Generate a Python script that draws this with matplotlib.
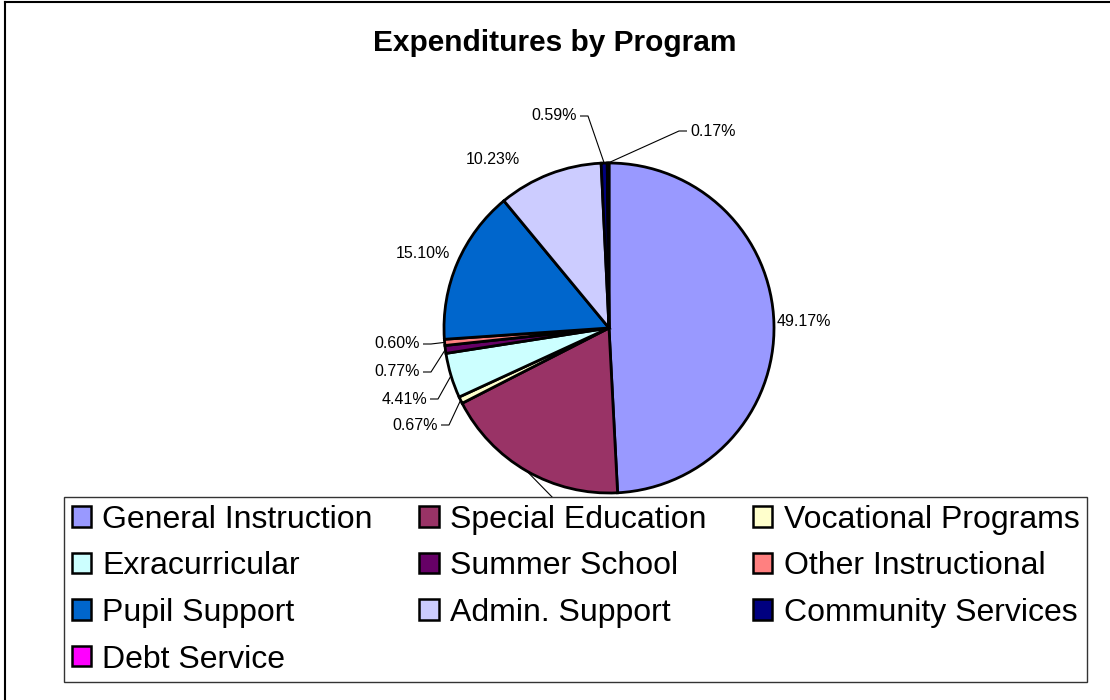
import numpy as np
import matplotlib
matplotlib.use("Agg")
import matplotlib.pyplot as plt
from matplotlib.patches import Patch
from matplotlib.lines import Line2D

plt.rcParams['font.family'] = ['Liberation Sans', 'DejaVu Sans']

# data
programs = ["General Instruction", "Special Education", "Vocational Programs",
            "Exracurricular", "Summer School", "Other Instructional",
            "Pupil Support", "Admin. Support", "Community Services", "Debt Service"]
shares = [49.17, 18.29, 0.67, 4.41, 0.77, 0.60, 15.10, 10.23, 0.59, 0.17]
colors = ["#9999FF", "#993366", "#FFFFCC", "#CCFFFF", "#660066",
          "#FF8080", "#0066CC", "#CCCCFF", "#000080", "#FF00FF"]

W, H = 1110, 700
# label placement (pixels from top-left): x, y, ha, leader line?, text visible?
# (the Special Education label sits behind the legend in the original)
label_layout = [
    (777, 322, "left", False, True),
    (566, 500, "left", True, False),
    (438, 425, "right", True, True),
    (427, 399, "right", True, True),
    (420, 372, "right", True, True),
    (420, 344, "right", True, True),
    (450, 254, "right", False, True),
    (520, 160, "right", False, True),
    (577, 116, "right", True, True),
    (690, 131, "left", True, True),
]

fig = plt.figure(figsize=(W / 100, H / 100), dpi=100)
ax = fig.add_axes([0, 0, 1, 1])

cx, cy, r = 609, H - 328, 165
wedges, _ = ax.pie(shares, colors=colors, startangle=90, counterclock=False,
                   center=(cx, cy), radius=r, frame=True,
                   wedgeprops=dict(edgecolor="black", linewidth=2))
ax.set_xlim(0, W)
ax.set_ylim(0, H)
ax.set_aspect("equal")
ax.set_axis_off()

for w, val, (tx, ty, ha, leader, shown) in zip(wedges, shares, label_layout):
    ty = H - ty
    if shown:
        ax.text(tx, ty, f"{val:.2f}%", ha=ha, va="center", fontsize=11.5, zorder=3)
    if leader:
        mid = np.deg2rad((w.theta1 + w.theta2) / 2)
        axp, ayp = cx + r * np.cos(mid), cy + r * np.sin(mid)
        sgn = 1 if ha == "right" else -1
        x0 = tx + sgn * 3
        x1 = tx + sgn * 11
        ax.plot([x0, x1, axp], [ty, ty, ayp], color="black", lw=0.8,
                zorder=1, solid_capstyle="butt")

# title
fig.text(555 / W, 1 - 43 / H, "Expenditures by Program", ha="center",
         va="center", fontsize=21.5, fontweight="bold")

# legend, filled row by row like the original
order = [0, 3, 6, 9, 1, 4, 7, 2, 5, 8]
handles = [Patch(facecolor=colors[i], edgecolor="black", linewidth=1.8,
                 label=programs[i]) for i in order]
leg = fig.legend(handles=handles, ncol=3, loc="upper left",
                 bbox_to_anchor=(64 / W, 1 - 681 / H, (1087 - 64) / W, 184 / H),
                 mode="expand", fontsize=23, handlelength=0.6, handleheight=0.6,
                 handletextpad=0.35, labelspacing=0.52, borderpad=0.24,
                 borderaxespad=0, fancybox=False, framealpha=1)
leg.get_frame().set_edgecolor("#333333")
leg.get_frame().set_linewidth(1.0)

# outer chart border (top and left only visible)
fig.add_artist(Line2D([4.5 / W, 4.5 / W], [0, 1 - 2 / H], color="black", lw=1.5))
fig.add_artist(Line2D([4.5 / W, 1], [1 - 2 / H, 1 - 2 / H], color="black", lw=1.5))

fig.savefig("out.png", dpi=100)
